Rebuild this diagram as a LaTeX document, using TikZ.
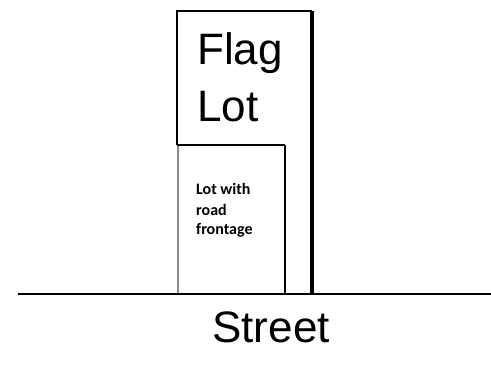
\documentclass[tikz,border=0pt]{standalone}
\usepackage{fontspec}
\setmainfont{Liberation Sans}
\newfontfamily\lotfont{Carlito}
\usepackage{tikz}
\usetikzlibrary{positioning}
\definecolor{lotgray}{HTML}{8A8A8A}

\begin{document}
\begin{tikzpicture}[x=1pt,y=-1pt,
    bigtext/.style={font=\fontsize{44}{52}\selectfont,inner sep=0pt,anchor=base west},
    smalltext/.style={font=\lotfont\bfseries\fontsize{16}{20}\selectfont,inner sep=0pt,anchor=base west}]
  \useasboundingbox[fill=white] (0,0) rectangle (491,369);
  \coordinate (FA) at (177,11); \coordinate (FB) at (312,11);
  \coordinate (RA) at (178,145); \coordinate (RB) at (285,145);
  \coordinate (SA) at (18,294); \coordinate (SB) at (491,294);
  % flag lot
  \draw[line width=1.6pt] (FA|-RA)--(FA)--(FB);
  \draw[line width=3.2pt] (FB)--(FB|-SA);
  % lot with road frontage
  \draw[lotgray,line width=1.3pt] (RA)--(RA|-SA);
  \draw[line width=2.2pt] (FA|-RA)--(RB);
  \draw[line width=2.8pt] (RB)--(RB|-SA);
  % street
  \draw[line width=2.2pt] (SA)--(SB);
  \node[bigtext] (flag) at (197,65) {Flag};
  \node[bigtext] (lot) at (197,122) {Lot};
  \node[smalltext] (front1) at (196,195) {Lot with};
  \node[smalltext] (front2) at (196,215) {road};
  \node[smalltext] (front3) at (196,235) {frontage};
  \node[bigtext,anchor=base] (street) at (271,342) {Street};
\end{tikzpicture}
\end{document}
